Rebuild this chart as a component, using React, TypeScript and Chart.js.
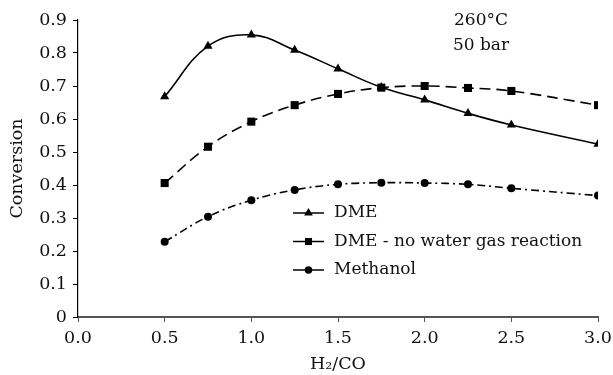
import React, { useEffect, useRef } from 'react';
import { Chart, registerables } from 'chart.js';

Chart.register(...registerables);

const ratios = [0.5, 0.75, 1.0, 1.25, 1.5, 1.75, 2.0, 2.25, 2.5, 3.0];
const dme = [0.668, 0.821, 0.855, 0.809, 0.752, 0.696, 0.658, 0.617, 0.582, 0.524];
const dmeNoWgs = [0.406, 0.516, 0.592, 0.642, 0.676, 0.695, 0.7, 0.694, 0.685, 0.642];
const methanol = [0.228, 0.304, 0.354, 0.385, 0.402, 0.407, 0.406, 0.402, 0.39, 0.368];
const seriesLabels = ['DME', 'DME - no water gas reaction', 'Methanol'];
const pointStyles = ['triangle', 'rect', 'circle'];
const noteLines = ['260°C', '50 bar'];
const xTitle = 'H₂/CO';
const yTitle = 'Conversion';

const FONT_FAMILY = "'DejaVu Serif', serif";
const FONT_SIZE = 17.5;
const TEXT_SIZE = 17;
const INK = '#111';

function drawMarker(ctx: CanvasRenderingContext2D, style: string, x: number, y: number, r: number) {
  ctx.beginPath();
  if (style === 'triangle') {
    ctx.moveTo(x, y - r);
    ctx.lineTo(x + r * 0.866, y + r * 0.5);
    ctx.lineTo(x - r * 0.866, y + r * 0.5);
    ctx.closePath();
  } else if (style === 'rect') {
    const s = r * 0.707;
    ctx.rect(x - s, y - s, 2 * s, 2 * s);
  } else {
    ctx.arc(x, y, r * 0.75, 0, Math.PI * 2);
  }
  ctx.fill();
}

const overlayPlugin = {
  id: 'overlay',
  afterDraw(chart: any) {
    const ctx: CanvasRenderingContext2D = chart.ctx;
    const area = chart.chartArea;
    ctx.save();
    ctx.font = `${TEXT_SIZE}px ${FONT_FAMILY}`;
    ctx.fillStyle = INK;
    ctx.strokeStyle = '#000';
    ctx.textBaseline = 'middle';
    ctx.textAlign = 'left';
    const lx0 = area.left + 215;
    const lx1 = lx0 + 31;
    const tx = lx1 + 10;
    const y0 = area.top + 193;
    const gap = 28.5;
    chart.data.datasets.forEach((ds: any, i: number) => {
      const y = y0 + i * gap;
      ctx.setLineDash([]);
      ctx.lineWidth = 1.5;
      ctx.beginPath();
      ctx.moveTo(lx0, y);
      ctx.lineTo(lx1, y);
      ctx.stroke();
      ctx.fillStyle = '#000';
      drawMarker(ctx, ds.pointStyle, (lx0 + lx1) / 2, y, 5);
      ctx.fillStyle = INK;
      ctx.fillText(ds.label, tx, y);
    });
    ctx.textAlign = 'center';
    const nx = area.left + 403;
    noteLines.forEach((t, i) => {
      ctx.fillText(t, nx, area.top + 1 + i * 25);
    });
    ctx.restore();
  },
};

export default function App() {
  const ref = useRef<HTMLCanvasElement | null>(null);
  useEffect(() => {
    if (!ref.current) return;
    const font = { family: FONT_FAMILY, size: FONT_SIZE };
    const mk = (i: number, values: number[], dash: number[], radius: number) => ({
      label: seriesLabels[i],
      data: ratios.map((x, j) => ({ x, y: values[j] })),
      borderColor: '#000',
      backgroundColor: '#000',
      borderWidth: 1.6,
      borderDash: dash,
      pointStyle: pointStyles[i],
      pointRadius: radius,
      pointBackgroundColor: '#000',
      pointBorderColor: '#000',
      pointBorderWidth: 0,
      tension: 0.4,
      fill: false,
    });
    const chart = new Chart(ref.current, {
      type: 'line',
      data: {
        datasets: [
          mk(0, dme, [], 5.3),
          mk(1, dmeNoWgs, [11, 6], 5.7),
          mk(2, methanol, [8, 4, 2, 4], 4),
        ],
      },
      plugins: [overlayPlugin],
      options: {
        animation: false,
        responsive: true,
        maintainAspectRatio: false,
        layout: { padding: { top: 20, right: 15, bottom: 0, left: 0 } },
        plugins: { legend: { display: false }, tooltip: { enabled: false } },
        scales: {
          x: {
            type: 'linear',
            min: 0,
            max: 3,
            afterFit: (s: any) => { s.height = 58; s.paddingRight = 0; s.paddingLeft = 0; },
            border: { display: true, color: '#555', width: 2 },
            grid: { display: true, drawOnChartArea: false, drawTicks: true, tickLength: 5, color: '#555' },
            ticks: {
              stepSize: 0.5,
              color: INK,
              font,
              padding: 6,
              maxRotation: 0,
              callback: (v: any) => Number(v).toFixed(1),
            },
            title: { display: true, text: xTitle, color: INK, font, padding: { top: 0, bottom: 0 } },
          },
          y: {
            type: 'linear',
            min: 0,
            max: 0.9,
            afterFit: (s: any) => { s.width = 78; s.paddingTop = 0; s.paddingBottom = 0; },
            border: { display: true, color: '#000', width: 1.2 },
            grid: { display: true, drawOnChartArea: false, drawTicks: true, tickLength: 5, color: '#000' },
            ticks: {
              stepSize: 0.1,
              color: INK,
              font,
              padding: 6,
              callback: (v: any) => (Math.abs(Number(v)) < 1e-9 ? '0' : Number(v).toFixed(1)),
            },
            title: { display: true, text: yTitle, color: INK, font, padding: { top: 7, bottom: 0 } },
          },
        },
      },
    } as any);
    return () => chart.destroy();
  }, []);
  return (
    <div style={{ position: 'absolute', left: 0, top: 0, width: 613, height: 375 }}>
      <canvas ref={ref} />
    </div>
  );
}
